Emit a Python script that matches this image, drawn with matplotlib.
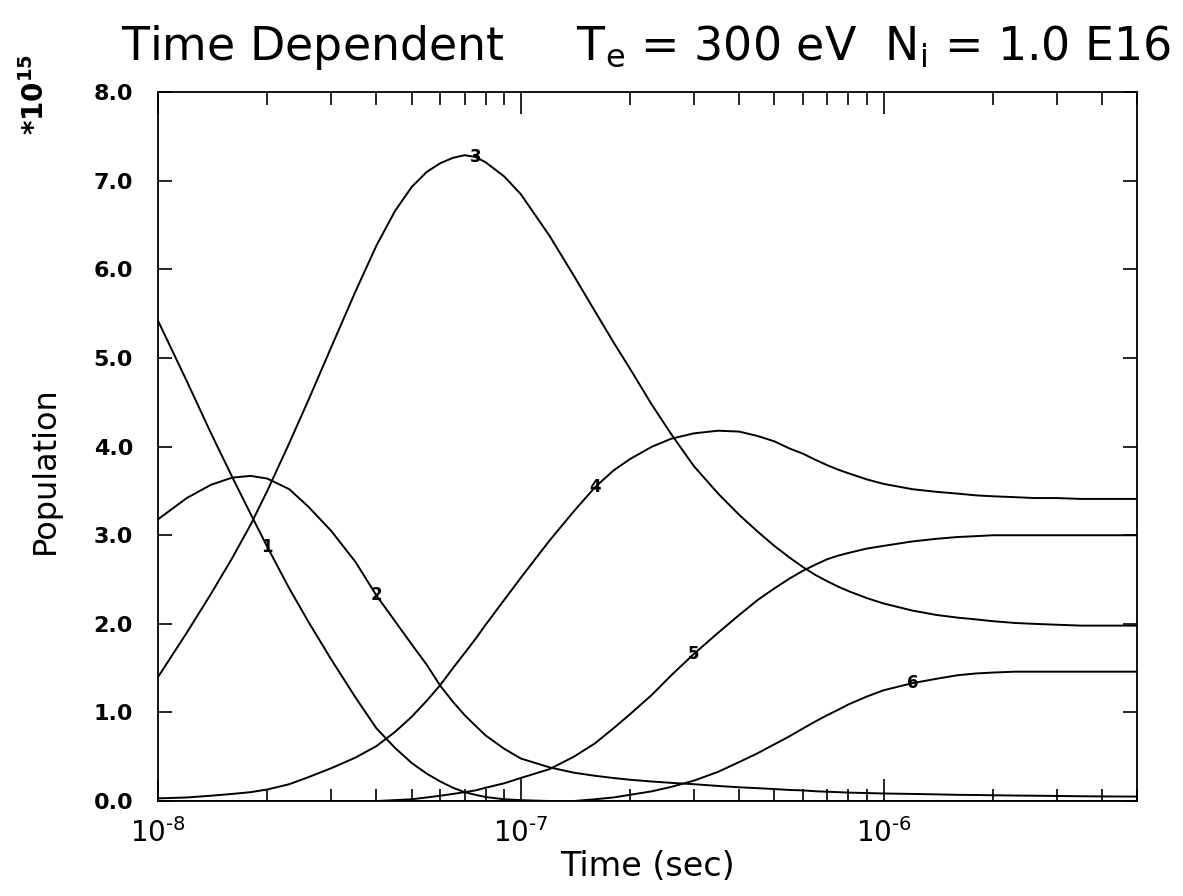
import math
import matplotlib
matplotlib.use("Agg")
import matplotlib.pyplot as plt
from matplotlib.ticker import LogLocator, MultipleLocator, NullFormatter, FormatStrFormatter, FuncFormatter

plt.rcParams["font.family"] = ["DejaVu Sans"]
plt.rcParams["mathtext.fontset"] = "dejavusans"

# time grid (sec)
time = [1.0e-8, 1.2e-8, 1.4e-8, 1.6e-8, 1.8e-8, 2.0e-8, 2.3e-8, 2.6e-8, 3.0e-8, 3.5e-8,
        4.0e-8, 4.5e-8, 5.0e-8, 5.5e-8, 6.0e-8, 6.5e-8, 7.0e-8, 7.5e-8, 8.0e-8, 9.0e-8,
        1.0e-7, 1.2e-7, 1.4e-7, 1.6e-7, 1.8e-7, 2.0e-7, 2.3e-7, 2.6e-7, 3.0e-7, 3.5e-7,
        4.0e-7, 4.5e-7, 5.0e-7, 5.5e-7, 6.0e-7, 6.5e-7, 7.0e-7, 7.5e-7, 8.0e-7, 9.0e-7,
        1.0e-6, 1.2e-6, 1.4e-6, 1.6e-6, 1.8e-6, 2.0e-6, 2.3e-6, 2.6e-6, 3.0e-6, 3.5e-6,
        4.0e-6, 5.0e-6]

# level populations, units of 1e15
pop1 = [5.42, 4.74, 4.15, 3.66, 3.24, 2.87, 2.40, 2.02, 1.60, 1.17,
        0.82, 0.60, 0.43, 0.31, 0.22, 0.15, 0.10, 0.07, 0.045, 0.02,
        0.01, 0.0, 0.0, 0.0, 0.0, 0.0, 0.0, 0.0, 0.0, 0.0,
        0.0, 0.0, 0.0, 0.0, 0.0, 0.0, 0.0, 0.0, 0.0, 0.0,
        0.0, 0.0, 0.0, 0.0, 0.0, 0.0, 0.0, 0.0, 0.0, 0.0,
        0.0, 0.0]
pop2 = [3.18, 3.42, 3.57, 3.65, 3.67, 3.64, 3.52, 3.32, 3.05, 2.70,
        2.32, 2.03, 1.77, 1.54, 1.30, 1.12, 0.97, 0.85, 0.74, 0.59,
        0.48, 0.38, 0.32, 0.285, 0.26, 0.24, 0.22, 0.205, 0.19, 0.17,
        0.155, 0.145, 0.135, 0.125, 0.12, 0.11, 0.105, 0.10, 0.095, 0.09,
        0.085, 0.08, 0.075, 0.07, 0.068, 0.065, 0.062, 0.06, 0.057, 0.054,
        0.052, 0.05]
pop3 = [1.40, 1.90, 2.34, 2.74, 3.12, 3.50, 4.04, 4.53, 5.12, 5.75,
        6.27, 6.66, 6.93, 7.10, 7.20, 7.26, 7.29, 7.27, 7.21, 7.05,
        6.85, 6.38, 5.93, 5.53, 5.18, 4.88, 4.47, 4.14, 3.78, 3.47,
        3.23, 3.04, 2.88, 2.75, 2.64, 2.55, 2.48, 2.42, 2.37, 2.29,
        2.23, 2.15, 2.10, 2.07, 2.05, 2.03, 2.01, 2.0, 1.99, 1.98,
        1.98, 1.98]
pop4 = [0.03, 0.04, 0.06, 0.08, 0.10, 0.13, 0.19, 0.27, 0.37, 0.49,
        0.62, 0.78, 0.95, 1.13, 1.31, 1.50, 1.67, 1.83, 1.99, 2.27,
        2.52, 2.94, 3.27, 3.54, 3.73, 3.86, 4.00, 4.09, 4.15, 4.18,
        4.17, 4.12, 4.06, 3.98, 3.92, 3.85, 3.79, 3.74, 3.70, 3.63,
        3.58, 3.52, 3.49, 3.47, 3.45, 3.44, 3.43, 3.42, 3.42, 3.41,
        3.41, 3.41]
pop5 = [0.0, 0.0, 0.0, 0.0, 0.0, 0.0, 0.0, 0.0, 0.0, 0.0,
        0.0, 0.01, 0.02, 0.04, 0.06, 0.08, 0.10, 0.12, 0.15, 0.20,
        0.26, 0.36, 0.50, 0.65, 0.82, 0.98, 1.20, 1.42, 1.66, 1.90,
        2.10, 2.27, 2.40, 2.51, 2.60, 2.67, 2.73, 2.77, 2.80, 2.85,
        2.88, 2.93, 2.96, 2.98, 2.99, 3.0, 3.0, 3.0, 3.0, 3.0,
        3.0, 3.0]
pop6 = [0.0, 0.0, 0.0, 0.0, 0.0, 0.0, 0.0, 0.0, 0.0, 0.0,
        0.0, 0.0, 0.0, 0.0, 0.0, 0.0, 0.0, 0.0, 0.0, 0.0,
        0.0, 0.0, 0.0, 0.02, 0.04, 0.07, 0.11, 0.16, 0.23, 0.33,
        0.44, 0.54, 0.64, 0.73, 0.82, 0.90, 0.97, 1.03, 1.09, 1.18,
        1.25, 1.33, 1.38, 1.42, 1.44, 1.45, 1.46, 1.46, 1.46, 1.46,
        1.46, 1.46]

levels = ["1", "2", "3", "4", "5", "6"]
series = [pop1, pop2, pop3, pop4, pop5, pop6]
# grid index where each level number is written on its curve
label_at = [5, 10, 17, 23, 28, 41]

fig = plt.figure(figsize=(11.83, 8.96), dpi=100)
ax = fig.add_axes([0.1336, 0.106, 0.8276, 0.791])

for name, vals, i in zip(levels, series, label_at):
    ax.plot(time, vals, color="black", lw=1.4)
    ax.text(time[i], vals[i], name, fontsize=12, fontweight="bold",
            ha="center", va="center")

ax.set_xscale("log")
ax.set_xlim(1e-8, 5e-6)
ax.set_ylim(0, 8)

ax.xaxis.set_major_locator(LogLocator(base=10))
ax.xaxis.set_minor_locator(LogLocator(base=10, subs=range(2, 10)))
ax.xaxis.set_minor_formatter(NullFormatter())
ax.xaxis.set_major_formatter(FuncFormatter(
    lambda v, p: "10$^{\u2010%d}$" % round(-math.log10(v))))
ax.yaxis.set_major_locator(MultipleLocator(1))
ax.yaxis.set_major_formatter(FormatStrFormatter("%.1f"))

ax.tick_params(which="both", direction="in", top=True, right=True, width=1.2)
ax.tick_params(axis="x", which="major", length=16, labelsize=20, pad=12)
ax.tick_params(axis="x", which="minor", length=9)
ax.tick_params(axis="y", which="major", length=10, labelsize=16, pad=18)
for lbl in ax.get_yticklabels():
    lbl.set_fontweight("bold")
for s in ax.spines.values():
    s.set_linewidth(1.3)

ax.set_xlabel("Time (sec)", fontsize=24, labelpad=2)
fig.text(0.038, 0.475, "Population", rotation=90, fontsize=23,
         ha="center", va="center")
fig.text(0.03, 0.895, r"*10$^{\mathbf{15}}$", rotation=90, fontsize=20,
         fontweight="bold", ha="center", va="center")
fig.text(0.546, 0.933,
         r"Time Dependent     T$_{\mathrm{e}}$ = 300 eV  N$_{\mathrm{i}}$ = 1.0 E16",
         fontsize=33, ha="center", va="baseline")

fig.savefig("out.png", dpi=100)
